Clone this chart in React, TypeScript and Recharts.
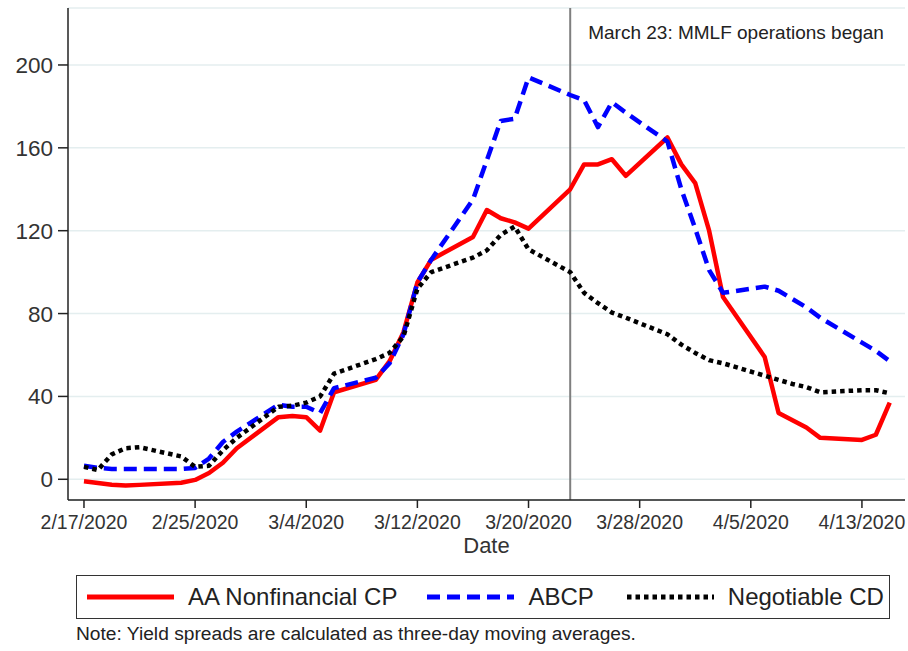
import React from 'react';
import {
  LineChart,
  Line,
  XAxis,
  YAxis,
  CartesianGrid,
  ReferenceLine,
} from 'recharts';

// days since 2/17/2020 (business days only; weekends are bridged by the line)
const days = [
  0, 1, 2, 3, 4, 7, 8, 9, 10, 11, 14, 15, 16, 17, 18, 21, 22, 23, 24, 25, 28, 29,
  30, 31, 32, 35, 36, 37, 38, 39, 42, 43, 44, 45, 46, 49, 50, 51, 52, 53, 56, 57, 58,
];

// yield spreads, basis points
const aaNonfinancialCP = [
  -1, -1.8, -2.6, -3, -2.7, -1.7, -0.3, 3, 8, 15, 30, 30.5, 30, 23.5, 42, 48, 57,
  71, 95, 106, 117, 130, 126, 124, 121, 140, 152, 152, 154.5, 146.5, 165, 152, 143,
  120, 88, 59, 32, 28.5, 25, 20, 19, 21.5, 37,
];
const abcp = [
  6.5, 5.5, 5, 5, 5, 5, 5.5, 10, 18, 23, 36, 35, 35, 32, 44, 49, 56, 70, 95, 106,
  135, 154, 173, 174, 194, 185.5, 183, 170, 182, 177, 163, 140, 121, 101, 90, 93,
  91, 87, 83, 78, 66, 62, 57,
];
const negotiableCD = [
  6, 4.5, 12, 15, 15.5, 11, 6, 6.5, 14, 20, 35, 35.5, 37, 40, 51, 58, 61, 69, 92,
  100, 107, 110.5, 118, 122, 111, 100, 90, 85, 80.5, 78, 70, 65, 61, 57.5, 56, 50,
  48, 46, 44.5, 42, 43, 43, 41.5,
];

const xTickDays = [0, 8, 16, 24, 32, 40, 48, 56];
const xTickLabels = [
  '2/17/2020', '2/25/2020', '3/4/2020', '3/12/2020',
  '3/20/2020', '3/28/2020', '4/5/2020', '4/13/2020',
];
const yTicks = [0, 40, 80, 120, 160, 200];

const mmlfDay = 35;
const mmlfNote = 'March 23: MMLF operations began';

const FONT = '"Liberation Sans", Arial, Helvetica, sans-serif';

const series = [
  { key: 'aa', name: 'AA Nonfinancial CP', color: '#ff0000', dash: undefined as string | undefined },
  { key: 'abcp', name: 'ABCP', color: '#0000ff', dash: '13 7' },
  { key: 'cd', name: 'Negotiable CD', color: '#000000', dash: '4.5 4' },
];
const legendGaps = [0, 30, 33];

const rows = days.map((day, i) => ({
  day,
  aa: aaNonfinancialCP[i],
  abcp: abcp[i],
  cd: negotiableCD[i],
}));

function LegendSample({ color, dash }: { color: string; dash?: string }) {
  return (
    <svg width={87} height={10} style={{ display: 'block', flexShrink: 0 }}>
      <line x1={0} y1={5} x2={87} y2={5} stroke={color} strokeWidth={5} strokeDasharray={dash} />
    </svg>
  );
}

export default function App() {
  return (
    <div
      style={{
        position: 'absolute',
        left: 0,
        top: 0,
        width: 908,
        height: 651,
        background: '#fff',
        fontFamily: FONT,
      }}
    >
      <LineChart
        width={908}
        height={560}
        data={rows}
        margin={{ top: 8, right: 3, bottom: 0, left: 0 }}
        style={{ fontFamily: FONT }}
      >
        <CartesianGrid horizontal vertical={false} stroke="#e4eeef" strokeWidth={1.5} />
        <XAxis
          type="number"
          dataKey="day"
          domain={[-1.15, 59.1]}
          ticks={xTickDays}
          tickFormatter={(v: number) => xTickLabels[xTickDays.indexOf(v)] ?? ''}
          allowDataOverflow
          height={60}
          stroke="#222"
          strokeWidth={1.5}
          tickSize={8}
          tickMargin={7}
          tick={{ fill: '#333', fontSize: 19.5 }}
          interval={0}
          label={{ value: 'Date', position: 'insideBottom', offset: 7, fill: '#333', fontSize: 22 }}
        />
        <YAxis
          type="number"
          domain={[-10, 227.5]}
          ticks={yTicks}
          allowDataOverflow
          width={68}
          stroke="#222"
          strokeWidth={1.5}
          tickSize={10}
          tickMargin={5}
          tick={{ fill: '#333', fontSize: 22.5 }}
          interval={0}
        />
        <ReferenceLine
          x={mmlfDay}
          stroke="#7f7f7f"
          strokeWidth={2}
          label={{
            value: mmlfNote,
            position: 'insideTopLeft',
            offset: 18,
            fill: '#222',
            fontSize: 19,
          }}
        />
        {series.map((s) => (
          <Line
            key={s.key}
            type="linear"
            dataKey={s.key}
            name={s.name}
            stroke={s.color}
            strokeWidth={4.5}
            strokeDasharray={s.dash}
            strokeLinejoin="round"
            dot={false}
            activeDot={false}
            isAnimationActive={false}
          />
        ))}
      </LineChart>

      <div
        style={{
          position: 'absolute',
          left: 76,
          top: 575,
          width: 814,
          height: 44,
          boxSizing: 'border-box',
          border: '1.5px solid #333',
          display: 'flex',
          alignItems: 'center',
          paddingLeft: 10,
          fontSize: 24,
          color: '#222',
        }}
      >
        {series.map((s, i) => (
          <div
            key={s.key}
            style={{ display: 'flex', alignItems: 'center', marginLeft: legendGaps[i] }}
          >
            <LegendSample color={s.color} dash={s.dash} />
            <span style={{ marginLeft: 14, whiteSpace: 'nowrap' }}>{s.name}</span>
          </div>
        ))}
      </div>

      <div
        style={{
          position: 'absolute',
          left: 76,
          top: 623,
          fontSize: 19.2,
          color: '#222',
          whiteSpace: 'nowrap',
        }}
      >
        Note: Yield spreads are calculated as three-day moving averages.
      </div>
    </div>
  );
}
